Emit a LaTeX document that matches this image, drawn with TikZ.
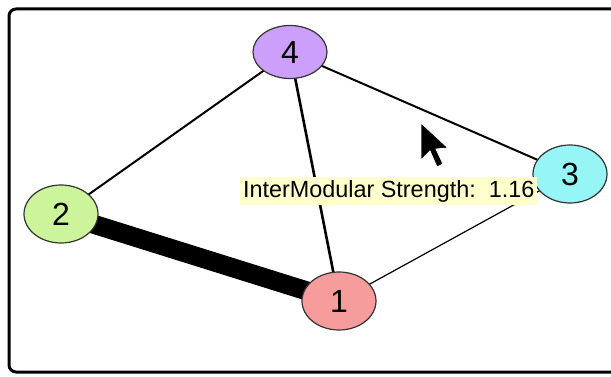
\documentclass[tikz,border=0pt]{standalone}
\usepackage{fontspec}
\setmainfont{Liberation Sans}
\usetikzlibrary{shapes,backgrounds}
\definecolor{modA}{RGB}{246,156,156}
\definecolor{modB}{RGB}{204,245,155}
\definecolor{modC}{RGB}{150,245,245}
\definecolor{modD}{RGB}{204,160,250}
\definecolor{tipyellow}{RGB}{255,255,206}
\tikzstyle{modulo} = [draw=black!80, line width=1.2pt, ellipse, minimum width=74pt, minimum height=58pt, inner sep=0pt, font=\fontsize{32}{32}\selectfont]
\tikzstyle{enlace} = [draw=black, line cap=butt]
\tikzstyle{etiqueta} = [fill=tipyellow, anchor=west, inner xsep=2pt, minimum width=297pt, minimum height=28pt, font=\fontsize{23.4}{23.4}\selectfont]

\begin{document}
\begin{tikzpicture}[x=1pt,y=-1pt]
					\clip (0,0) rectangle (611,377);
					\node [modulo, fill=modA] (m1) at (339,301) {1};
					\node [modulo, fill=modB] (m2) at (61,214) {2};
					\node [modulo, fill=modC] (m3) at (570,174) {3};
					\node [modulo, fill=modD, minimum height=53pt] (m4) at (290,52) {4};
					\begin{scope}[on background layer]
					    \draw [line width=3pt, rounded corners=7pt] (9,9) rectangle (650,372);
					    \draw [enlace, line width=2pt] (m4.center) -- (m2.center);
					    \draw [enlace, line width=2.6pt] (m4.center) -- (m1.center);
					    \draw [enlace, line width=2pt] (m4.center) -- (m3.center);
					    \draw [enlace, line width=1.2pt] (m1.center) -- (m3.center);
					    \draw [enlace, line width=19pt] (m2.center) -- (m1.center);
					\end{scope}
					\node [etiqueta] (tip) at (240,191) {InterModular Strength:\ \ 1.16};
					% cursor
					\fill [black, draw=white, line width=0.8pt] (421,123) -- (421,160) -- (430,151) -- (437,167) -- (443,164) -- (436,149) -- (448,148) -- cycle;
\end{tikzpicture}
\end{document}
